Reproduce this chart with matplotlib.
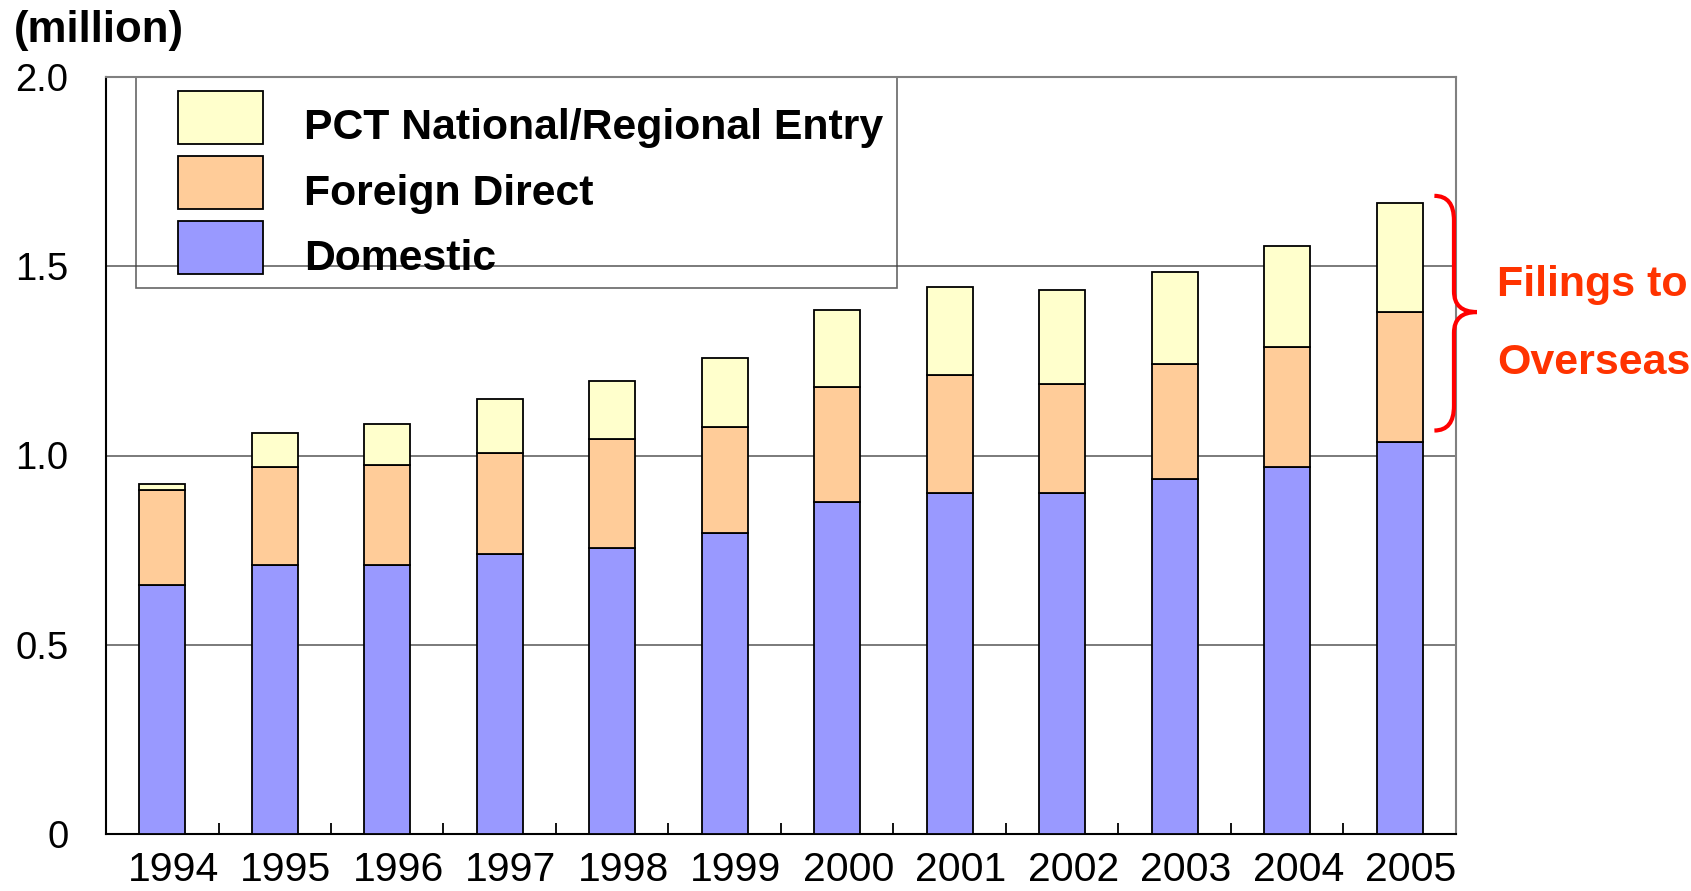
import matplotlib
matplotlib.use("Agg")
import matplotlib.pyplot as plt
import matplotlib.transforms as mtransforms
from matplotlib.path import Path
from matplotlib.patches import PathPatch, Rectangle, Patch
from matplotlib.legend_handler import HandlerPatch
import numpy as np

plt.rcParams['font.family'] = ['Liberation Sans', 'DejaVu Sans']

years = ['1994', '1995', '1996', '1997', '1998', '1999', '2000', '2001', '2002', '2003', '2004', '2005']
domestic = [0.657, 0.710, 0.710, 0.741, 0.756, 0.794, 0.878, 0.900, 0.900, 0.938, 0.969, 1.036]
foreign_direct = [0.251, 0.259, 0.266, 0.265, 0.288, 0.280, 0.304, 0.312, 0.289, 0.304, 0.318, 0.343]
pct_entry = [0.016, 0.090, 0.106, 0.144, 0.152, 0.183, 0.203, 0.234, 0.249, 0.242, 0.266, 0.287]
series_labels = ['PCT National/Regional Entry', 'Foreign Direct', 'Domestic']
yticks = [0, 0.5, 1.0, 1.5, 2.0]
ytick_labels = ['0', '0.5', '1.0', '1.5', '2.0']
unit_label = '(million)'
note_lines = ['Filings to', 'Overseas']

c_dom = '#9999FF'
c_for = '#FFCC99'
c_pct = '#FFFFCC'

W, H = 1691, 891
fig = plt.figure(figsize=(W / 100, H / 100), dpi=100)
ax = fig.add_axes([106 / W, 1 - 834 / H, 1350 / W, 757 / H])

x = np.arange(len(years))
dom = np.array(domestic)
fd = np.array(foreign_direct)
pc = np.array(pct_entry)
bw = 0.41
ekw = dict(edgecolor='black', linewidth=1.3)
ax.bar(x, dom, bw, color=c_dom, **ekw, zorder=3)
ax.bar(x, fd, bw, bottom=dom, color=c_for, **ekw, zorder=3)
ax.bar(x, pc, bw, bottom=dom + fd, color=c_pct, **ekw, zorder=3)

ax.set_xlim(-0.5, len(years) - 0.5)
ax.set_ylim(0, 2.0)
ax.set_yticks(yticks)
ax.set_yticklabels(ytick_labels, fontsize=27.5)
ax.tick_params(axis='y', length=0, pad=27)
ax.set_xticks(x)
ax.set_xticklabels(years, fontsize=29.5)
ax.tick_params(axis='x', which='major', length=0, pad=12)
shift = mtransforms.ScaledTranslation(11 / 100, 0, fig.dpi_scale_trans)
for lab in ax.get_xticklabels():
    lab.set_transform(lab.get_transform() + shift)
ax.set_xticks(x[:-1] + 0.5, minor=True)
ax.tick_params(axis='x', which='minor', direction='in', length=8, width=1.3, color='black')
ax.yaxis.grid(True, color='#707070', linewidth=1.3)
ax.set_axisbelow(True)

for s in ['left', 'bottom']:
    ax.spines[s].set_color('black')
    ax.spines[s].set_linewidth(1.5)
for s in ['top', 'right']:
    ax.spines[s].set_color('#808080')
    ax.spines[s].set_linewidth(1.5)

# legend
fs = 30.8
fs_px = fs * 100 / 72
patch_w_px = 85
lead_px = 28


def make_patch(legend, orig_handle, xdescent, ydescent, width, height, fontsize):
    pw = width * patch_w_px / (patch_w_px + lead_px)
    return Rectangle((-xdescent + width - pw, -ydescent), pw, height)


handles = [Patch(facecolor=c_pct, edgecolor='black', linewidth=1.3),
           Patch(facecolor=c_for, edgecolor='black', linewidth=1.3),
           Patch(facecolor=c_dom, edgecolor='black', linewidth=1.3)]
leg = ax.legend(handles, series_labels, loc='upper left',
                bbox_to_anchor=((136 - 106) / 1350, 1.0), borderaxespad=0,
                prop=dict(size=fs, weight='bold'),
                handlelength=(patch_w_px + lead_px) / fs_px, handleheight=1.51,
                labelspacing=0.295, handletextpad=0.95, borderpad=0.33,
                fancybox=False, facecolor='none', edgecolor='#404040',
                handler_map={Patch: HandlerPatch(patch_func=make_patch)})
leg.get_frame().set_linewidth(1.2)
leg.set_zorder(2)
tshift = mtransforms.ScaledTranslation(0, -8 / 100, fig.dpi_scale_trans)
for t in leg.get_texts():
    t.set_transform(t.get_transform() + tshift)

# brace annotation derived from the last bar
trans = mtransforms.blended_transform_factory(ax.transAxes, ax.transData)
top = dom[-1] + fd[-1] + pc[-1] + 0.02
bot = dom[-1] + 0.03
tip = dom[-1] + fd[-1]
x0, xv, xt = 0.984, 0.9985, 1.0155
r = 0.065
rt = 0.055
verts = [(x0, top), (xv, top), (xv, top - r),
         (xv, tip + rt),
         (xv, tip), (xt, tip),
         (xv, tip), (xv, tip - rt),
         (xv, bot + r),
         (xv, bot), (x0, bot)]
codes = [Path.MOVETO, Path.CURVE3, Path.CURVE3,
         Path.LINETO,
         Path.CURVE3, Path.CURVE3,
         Path.CURVE3, Path.CURVE3,
         Path.LINETO,
         Path.CURVE3, Path.CURVE3]
brace = PathPatch(Path(verts, codes), transform=trans, facecolor='none',
                  edgecolor='#FF0000', linewidth=3.0, clip_on=False, zorder=6)
ax.add_patch(brace)

fig.text(1497 / W, 1 - 285 / H, note_lines[0], color='#FF3300', fontsize=31,
         fontweight='bold', ha='left', va='center')
fig.text(1497 / W, 1 - 363 / H, note_lines[1], color='#FF3300', fontsize=31,
         fontweight='bold', ha='left', va='center')

fig.text(14 / W, 1 - 10 / H, unit_label, fontsize=31.5, fontweight='bold',
         ha='left', va='top')

fig.savefig('out.png', dpi=100)
